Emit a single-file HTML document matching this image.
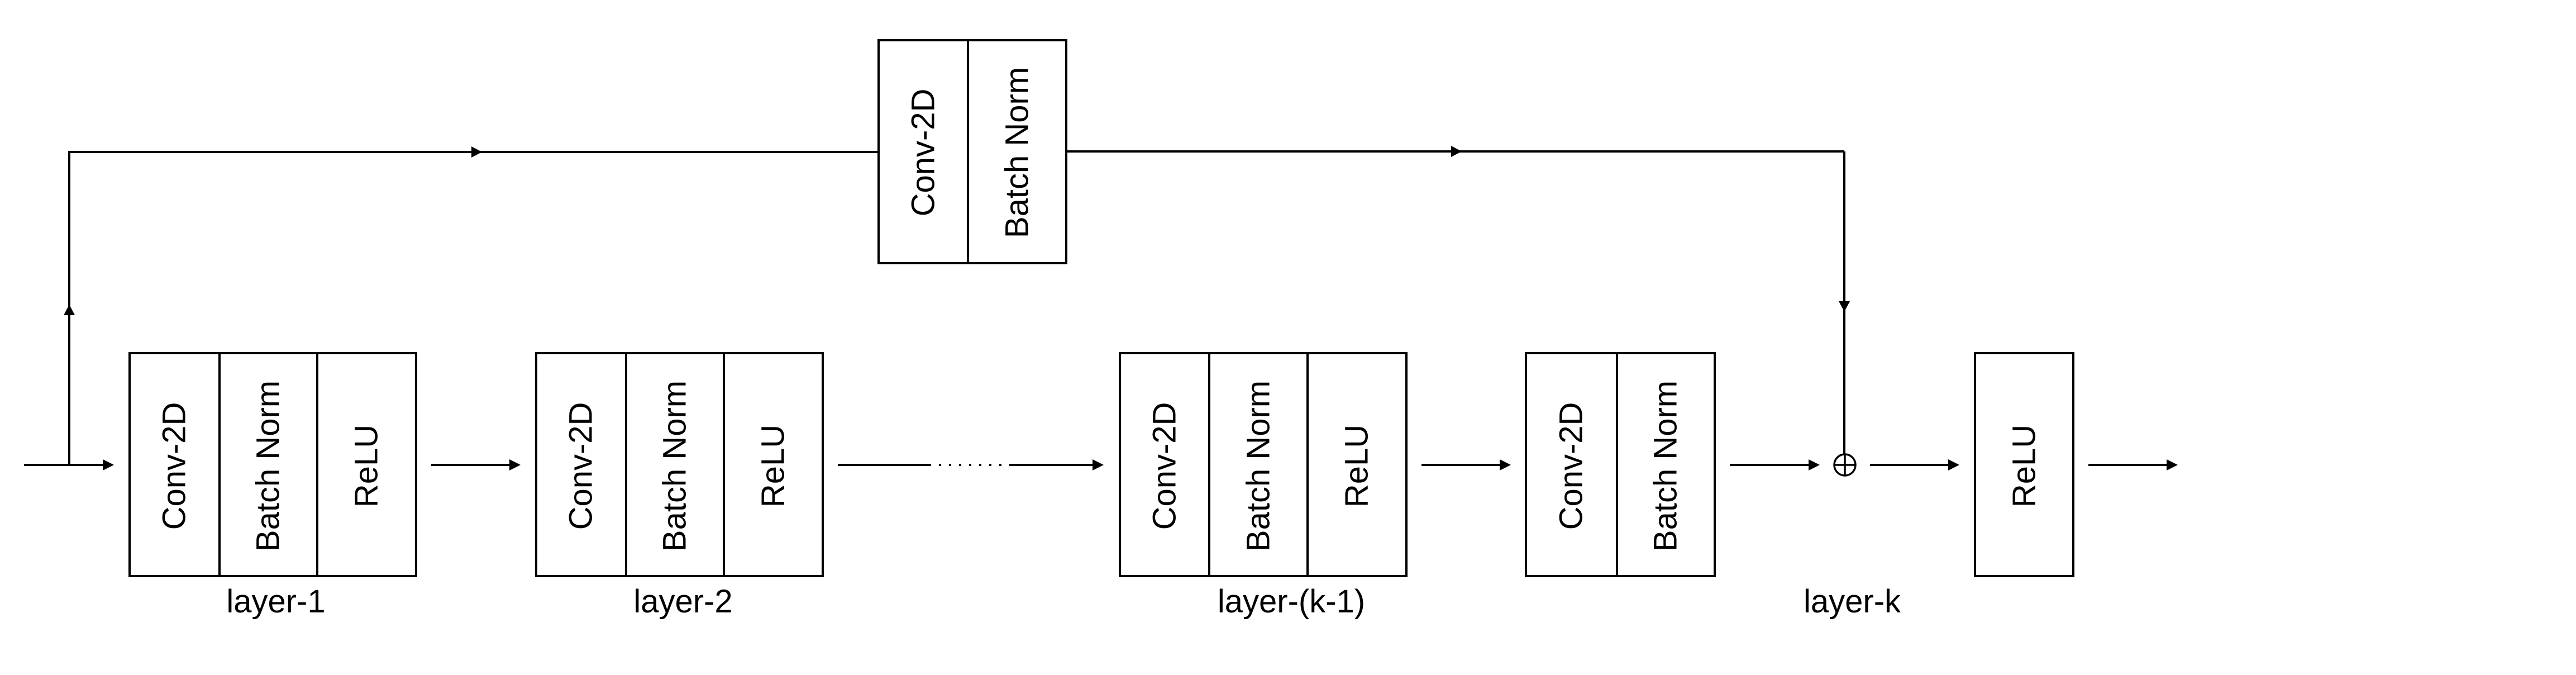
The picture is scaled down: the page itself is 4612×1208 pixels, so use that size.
<!DOCTYPE html>
<html><head><meta charset="utf-8"><style>
html,body{margin:0;padding:0;background:#fff;}
svg{display:block;}
text{font-family:"Liberation Sans",Arial,sans-serif;fill:#000;}
</style></head><body>
<svg width="4612" height="1208" viewBox="0 0 4612 1208" xmlns="http://www.w3.org/2000/svg">
<g fill="none" stroke="#000" stroke-width="4">
  <!-- layer-1 -->
  <rect x="232" y="632" width="513" height="399"/>
  <line x1="393" y1="632" x2="393" y2="1031"/><line x1="568" y1="632" x2="568" y2="1031"/>
  <!-- layer-2 -->
  <rect x="960" y="632" width="513" height="399"/>
  <line x1="1121" y1="632" x2="1121" y2="1031"/><line x1="1296" y1="632" x2="1296" y2="1031"/>
  <!-- layer-(k-1) -->
  <rect x="2005" y="632" width="513" height="399"/>
  <line x1="2165" y1="632" x2="2165" y2="1031"/><line x1="2341" y1="632" x2="2341" y2="1031"/>
  <!-- layer-k -->
  <rect x="2732" y="632" width="338" height="399"/>
  <line x1="2895" y1="632" x2="2895" y2="1031"/>
  <!-- ReLU -->
  <rect x="3536" y="632" width="176" height="399"/>
  <!-- top box -->
  <rect x="1573" y="72" width="336" height="399"/>
  <line x1="1733" y1="72" x2="1733" y2="471"/>

  <!-- connectors -->
  <line x1="43" y1="832" x2="186" y2="832"/>
  <polyline points="124,832 124,272 1573,272"/>
  <line x1="1909" y1="271" x2="3302" y2="271"/>
  <line x1="3302" y1="271" x2="3302" y2="813"/>
  <line x1="772" y1="832" x2="914" y2="832"/>
  <line x1="1500" y1="832" x2="1663" y2="832"/>
  <line x1="1663" y1="832" x2="1810" y2="832" stroke-dasharray="4 14"/>
  <line x1="1810" y1="832" x2="1958" y2="832"/>
  <line x1="2545" y1="832" x2="2687" y2="832"/>
  <line x1="3097" y1="832" x2="3240" y2="832"/>
  <line x1="3348" y1="832" x2="3490" y2="832"/>
  <line x1="3739" y1="832" x2="3881" y2="832"/>
  <circle cx="3303" cy="832" r="19" stroke-width="3.5"/>
  <line x1="3284" y1="832" x2="3322" y2="832" stroke-width="3.5"/>
  <line x1="3303" y1="813" x2="3303" y2="851" stroke-width="3.5"/>
</g>
<g fill="#000">
  <polygon points="204,832 184,822 184,842"/>
  <polygon points="932,832 912,822 912,842"/>
  <polygon points="1976,832 1956,822 1956,842"/>
  <polygon points="2705,832 2685,822 2685,842"/>
  <polygon points="3258,832 3238,822 3238,842"/>
  <polygon points="3508,832 3488,822 3488,842"/>
  <polygon points="3899,832 3879,822 3879,842"/>
  <polygon points="124,545 114,564 134,564"/>
  <polygon points="863,272 844,262 844,282"/>
  <polygon points="2617,271 2598,261 2598,281"/>
  <polygon points="3302,558 3292,539 3312,539"/>
</g>
<g font-size="58" text-anchor="middle" dominant-baseline="central">
  <text transform="translate(312,834) rotate(-90)">Conv-2D</text>
  <text transform="translate(480,834) rotate(-90)">Batch Norm</text>
  <text transform="translate(656,834) rotate(-90)">ReLU</text>
  <text transform="translate(1040,834) rotate(-90)">Conv-2D</text>
  <text transform="translate(1208,834) rotate(-90)">Batch Norm</text>
  <text transform="translate(1384,834) rotate(-90)">ReLU</text>
  <text transform="translate(2085,834) rotate(-90)">Conv-2D</text>
  <text transform="translate(2253,834) rotate(-90)">Batch Norm</text>
  <text transform="translate(2429,834) rotate(-90)">ReLU</text>
  <text transform="translate(2813,834) rotate(-90)">Conv-2D</text>
  <text transform="translate(2982,834) rotate(-90)">Batch Norm</text>
  <text transform="translate(3624,834) rotate(-90)">ReLU</text>
  <text transform="translate(1653,273) rotate(-90)">Conv-2D</text>
  <text transform="translate(1821,273) rotate(-90)">Batch Norm</text>
</g>
<g font-size="58" text-anchor="middle">
  <text x="494" y="1096">layer-1</text>
  <text x="1223" y="1096">layer-2</text>
  <text x="2312" y="1096">layer-(k-1)</text>
  <text x="3316" y="1096">layer-k</text>
</g>
</svg>
</body></html>
